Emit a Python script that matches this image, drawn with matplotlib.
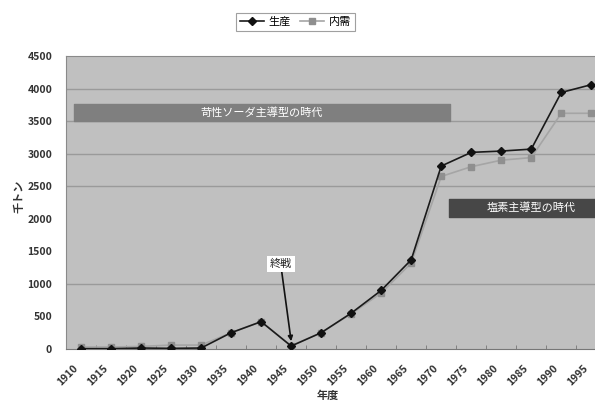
import matplotlib.pyplot as plt
import matplotlib.transforms as mtransforms
import numpy as np

plt.rcParams['font.family'] = ['Noto Sans CJK JP', 'DejaVu Sans']

# data (千トン)
years = ['1910', '1915', '1920', '1925', '1930', '1935', '1940', '1945', '1950',
         '1955', '1960', '1965', '1970', '1975', '1980', '1985', '1990', '1995']
production = [5, 5, 15, 10, 15, 250, 420, 45, 250,
              550, 900, 1370, 2810, 3020, 3040, 3070, 3940, 4060]
demand = [30, 30, 40, 60, 60, 250, 420, 50, 250,
          540, 860, 1320, 2650, 2800, 2900, 2940, 3620, 3620]

x = np.arange(len(years))

fig = plt.figure(figsize=(5.95, 4.03), dpi=100)
ax = fig.add_axes([0.111, 0.134, 0.908, 0.727])
ax.set_facecolor('#c0c0c0')

# gridlines (only the ones that show in the original)
for g in [1000, 2500, 3000, 3500, 4000]:
    ax.axhline(g, color='#9a9a9a', lw=1.0, zorder=1)

# era bands
ax.fill_between([-0.25, 12.3], 3500, 3760, color='#7f7f7f', zorder=2)
ax.text(6.0, 3630, '苛性ソーダ主導型の時代', color='white', fontsize=8,
        ha='center', va='center', zorder=3)
ax.fill_between([12.27, 18], 2030, 2310, color='#474747', zorder=2)
ax.text(15.0, 2170, '塩素主導型の時代', color='white', fontsize=8,
        ha='center', va='center', zorder=3)

ax.plot(x, demand, color='#a5a5a5', lw=1.2, marker='s', ms=5,
        mfc='#8f8f8f', mec='#8f8f8f', label='内需', zorder=4)
ax.plot(x, production, color='#1a1a1a', lw=1.2, marker='D', ms=4.5,
        mfc='#111111', mec='#111111', label='生産', zorder=5)

# 終戦 annotation
ax.annotate('終戦', xy=(7.0, 120), xytext=(6.65, 1310), fontsize=8,
            ha='center', va='center', color='#222222',
            bbox=dict(boxstyle='square,pad=0.25', fc='white', ec='none'),
            arrowprops=dict(arrowstyle='-|>', color='#111111', lw=1.2,
                            mutation_scale=7, shrinkA=0, shrinkB=0),
            zorder=6)

ax.set_xlim(-0.5, len(years) - 0.5)
ax.set_ylim(0, 4500)
ax.set_yticks(np.arange(0, 4501, 500))
ax.set_xticks(x)
ax.set_xticklabels(years, rotation=45, ha='right', rotation_mode='anchor')
ax.set_xticks(np.arange(-0.5, len(years), 1), minor=True)
ax.tick_params(axis='x', which='major', length=0, pad=10, labelsize=7.5,
               labelcolor='#333333')
ax.tick_params(axis='x', which='minor', length=3, direction='in',
               color='#777777')
ax.tick_params(axis='y', length=0, pad=10, labelsize=7.5, labelcolor='#333333')
for lab in ax.get_xticklabels() + ax.get_yticklabels():
    lab.set_fontweight('bold')
# shift the rotated year labels a bit to the left, like the original
off = mtransforms.ScaledTranslation(-8 / 100, 0, fig.dpi_scale_trans)
for lab in ax.get_xticklabels():
    lab.set_transform(lab.get_transform() + off)

for s in ['left', 'top']:
    ax.spines[s].set_color('#8a8a8a')
ax.spines['bottom'].set_color('#777777')
ax.spines['right'].set_visible(False)

ax.set_ylabel('千トン', fontsize=8, color='#333333', fontweight='bold')
ax.yaxis.set_label_coords(-0.075, 0.52)
ax.set_xlabel('年度', fontsize=8, color='#333333', fontweight='bold')
ax.xaxis.set_label_coords(0.485, -0.135)

h, l = ax.get_legend_handles_labels()
leg = fig.legend(h[::-1], l[::-1], loc='center', bbox_to_anchor=(0.496, 0.945),
                 ncol=2, fontsize=8, frameon=True, fancybox=False,
                 edgecolor='#888888', handlelength=2.2, columnspacing=0.8,
                 handletextpad=0.4, borderpad=0.35)
leg.get_frame().set_linewidth(0.8)

fig.savefig('out.png', dpi=100)
